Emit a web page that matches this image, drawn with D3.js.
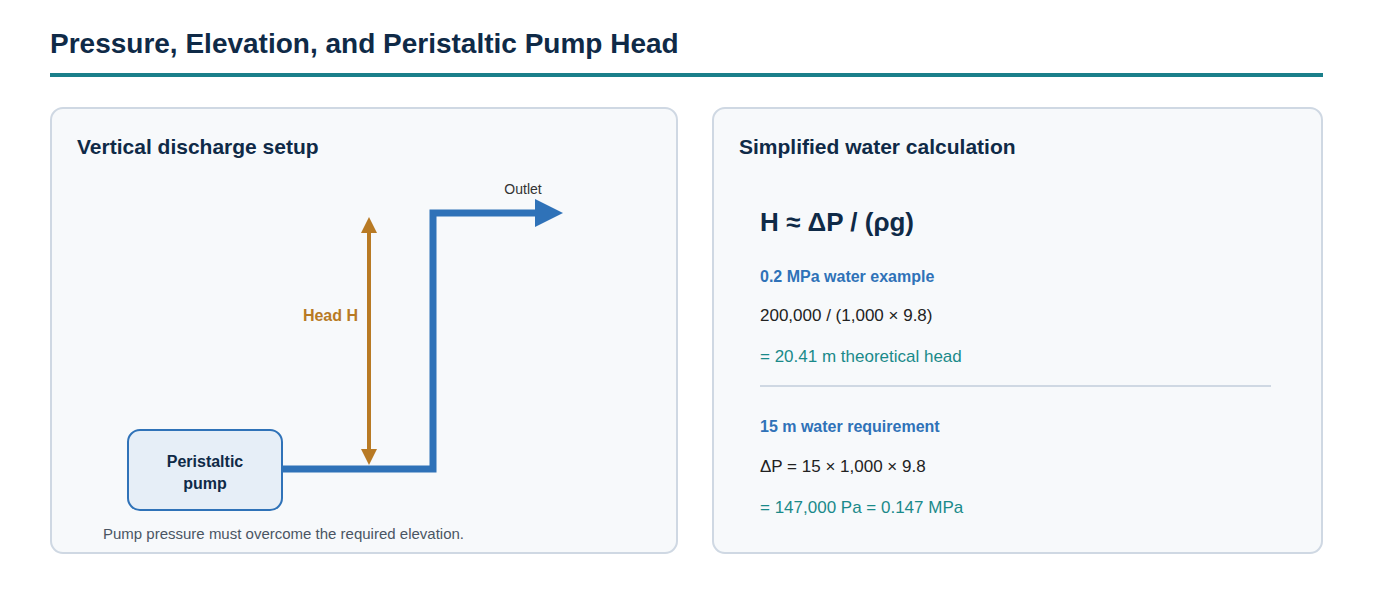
<!DOCTYPE html>
<html><head><meta charset="utf-8">
<script src="https://cdn.jsdelivr.net/npm/d3@7"></script>
<style>body{margin:0;background:#fff;font-family:"Liberation Sans",Arial,sans-serif}</style>
</head><body><svg id="c" width="1373" height="613"></svg>
<script>
const title = "Pressure, Elevation, and Peristaltic Pump Head";
const panelTitles = ["Vertical discharge setup", "Simplified water calculation"];
const pumpLabel = ["Peristaltic", "pump"];
const headLabel = "Head H";
const outletLabel = "Outlet";
const caption = "Pump pressure must overcome the required elevation.";
const formula = "H ≈ ΔP / (ρg)";
const calcLines = [
  {t:"0.2 MPa water example", k:"head"},
  {t:"200,000 / (1,000 × 9.8)", k:"body"},
  {t:"= 20.41 m theoretical head", k:"res"},
  {t:"15 m water requirement", k:"head"},
  {t:"ΔP = 15 × 1,000 × 9.8", k:"body"},
  {t:"= 147,000 Pa = 0.147 MPa", k:"res"}
];
const calcY = [276, 315, 356, 426, 466, 507];

const svg = d3.select("#c");
const dark = "#0f2a47", blue = "#2f72b8", orange = "#b87a24", teal = "#1a8a8a";
const defs = svg.append("defs");
function marker(id, color, orient){
  defs.append("marker").attr("id",id).attr("viewBox","0 0 10 10").attr("refX",5).attr("refY",5)
    .attr("markerWidth",4).attr("markerHeight",4).attr("markerUnits","strokeWidth").attr("orient",orient)
    .append("path").attr("d","M0,0L10,5L0,10Z").attr("fill",color);
}
marker("ao", orange, "auto-start-reverse");
marker("ab", blue, "auto");

svg.append("text").attr("x",50).attr("y",53).attr("font-size",28).attr("font-weight","bold").attr("fill",dark).text(title);
svg.append("rect").attr("x",50).attr("y",73).attr("width",1273).attr("height",4).attr("fill","#1a7f8a");

const panels = [{x:51,w:626},{x:713,w:609}];
panels.forEach((p,i)=>{
  svg.append("rect").attr("x",p.x).attr("y",108).attr("width",p.w).attr("height",445).attr("rx",12)
    .attr("fill","#f7f9fb").attr("stroke","#cfd8e3").attr("stroke-width",2);
  svg.append("text").attr("x",p.x+26).attr("y",154).attr("font-size",21).attr("font-weight","bold").attr("fill",dark).text(panelTitles[i]);
});

// elevation scale for head arrow
const elev = d3.scaleLinear().domain([0,1]).range([469,213]);
// pipe
svg.append("path").attr("d",`M282,${elev(0)}H433V${elev(1)}H549`).attr("fill","none")
  .attr("stroke",blue).attr("stroke-width",7).attr("marker-end","url(#ab)");
// pump
svg.append("rect").attr("x",128).attr("y",430).attr("width",154).attr("height",80).attr("rx",12)
  .attr("fill","#e6eef7").attr("stroke",blue).attr("stroke-width",2);
pumpLabel.forEach((t,i)=>svg.append("text").attr("x",205).attr("y",467+i*22).attr("text-anchor","middle")
  .attr("font-size",16).attr("font-weight","bold").attr("fill",dark).text(t));
// head arrow
svg.append("line").attr("x1",369).attr("x2",369).attr("y1",elev(0)-12).attr("y2",elev(1)+12)
  .attr("stroke",orange).attr("stroke-width",4).attr("marker-start","url(#ao)").attr("marker-end","url(#ao)");
svg.append("text").attr("x",358).attr("y",321).attr("text-anchor","end").attr("font-size",16).attr("font-weight","bold").attr("fill",orange).text(headLabel);
svg.append("text").attr("x",523).attr("y",194).attr("text-anchor","middle").attr("font-size",14).attr("fill","#333").text(outletLabel);
svg.append("text").attr("x",103).attr("y",539).attr("font-size",15).attr("fill","#4a5563").text(caption);

// right panel
svg.append("text").attr("x",760).attr("y",231).attr("font-size",26).attr("font-weight","bold").attr("fill",dark).text(formula);
calcLines.forEach((l,i)=>{
  svg.append("text").attr("x",760).attr("y",calcY[i]+6)
    .attr("font-size", l.k==="head"?16:17).attr("font-weight", l.k==="head"?"bold":"normal")
    .attr("fill", l.k==="head"?blue:l.k==="res"?teal:"#222").text(l.t);
});
svg.append("line").attr("x1",760).attr("x2",1271).attr("y1",386).attr("y2",386).attr("stroke","#cfd8e3").attr("stroke-width",2);
</script></body></html>
